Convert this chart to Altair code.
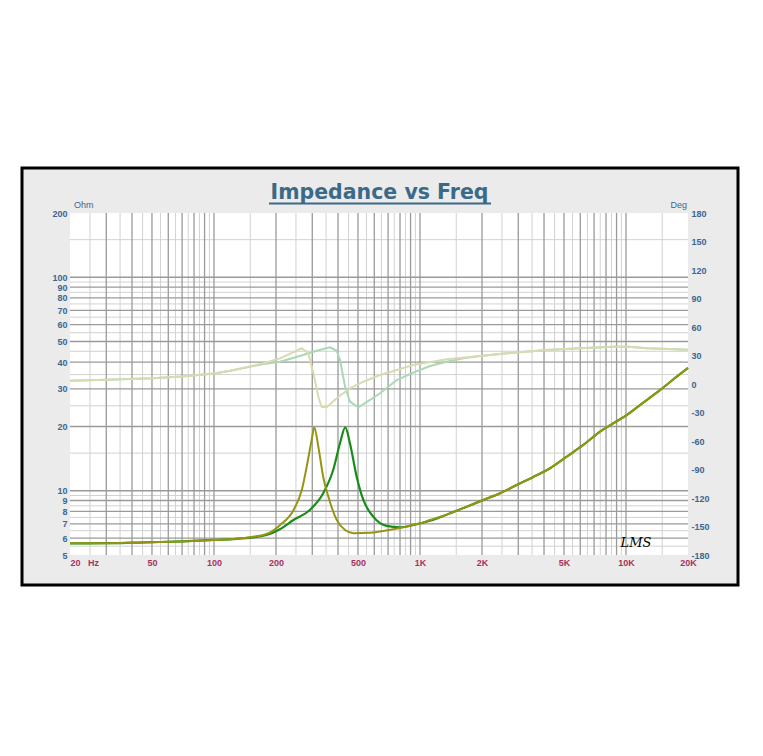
import altair as alt
import pandas as pd

# ---------------- data ----------------
title_text = "Impedance vs Freq"

# impedance curve 1 (olive, resonance ~305 Hz)
imp1_freq = [20, 30, 40, 50, 70, 100, 123, 155, 180, 209, 243, 267, 282, 298, 307, 321, 339, 359, 394, 433, 475,
             572, 742, 862, 1000, 1118, 1298, 1686, 2029, 2447, 2948, 3550, 4276, 5155, 6205, 7478, 8678,
             10080, 11695, 14620, 17630, 20000]
imp1_ohm = [5.67, 5.68, 5.71, 5.74, 5.79, 5.88, 5.94, 6.09, 6.27, 6.9, 8.1, 10.1, 13.0, 17.3, 19.8, 16.1, 11.6, 9.4,
            7.3, 6.55, 6.33, 6.36, 6.6, 6.79, 7.04, 7.29, 7.62, 8.42, 9.05, 9.73, 10.64, 11.6, 12.74, 14.44,
            16.38, 18.9, 20.7, 22.6, 25.2, 29.6, 34.2, 37.6]

# impedance curve 2 (green, resonance ~430 Hz)
imp2_freq = [20, 30, 40, 50, 70, 100, 123, 155, 180, 209, 243, 292, 339, 379, 409, 434, 457, 493, 531, 593, 689,
             800, 928, 1118, 1298, 1686, 2029, 2447, 2948, 3550, 4276, 5155, 6205, 7478, 8678, 10080, 11695,
             14620, 17630, 20000]
imp2_ohm = [5.67, 5.68, 5.71, 5.74, 5.79, 5.88, 5.94, 6.05, 6.2, 6.6, 7.29, 8.13, 9.73, 12.5, 16.7, 19.8, 16.7,
            11.6, 9.05, 7.56, 6.84, 6.74, 6.91, 7.23, 7.62, 8.42, 9.05, 9.73, 10.64, 11.6, 12.74, 14.44, 16.38,
            18.9, 20.7, 22.6, 25.2, 29.6, 34.2, 37.6]

# phase curve 1 (pale tan)
ph1_freq = [20, 30, 50, 70, 100, 120, 174, 209, 252, 267, 287, 304, 321, 333, 352, 394, 457, 531, 640, 928, 1348,
            1956, 2838, 4122, 5981, 8678, 10264, 12606, 20000]
ph1_deg = [3.5, 4.5, 6, 8, 11, 14, 21.8, 27, 35, 37.6, 32.3, 11.3, -13.4, -23.9, -24.5, -15, -4.5, 2.4, 9.5, 20,
           26, 29.5, 33, 35.8, 37.6, 39.3, 39.3, 37.6, 36.0]

# phase curve 2 (pale green)
ph2_freq = [20, 30, 50, 70, 100, 120, 174, 209, 271, 315, 366, 394, 409, 433, 457, 502, 572, 640, 771, 928, 1118,
            1348, 1623, 1956, 2838, 4122, 5981, 8678, 10264, 12606, 20000]
ph2_deg = [3.5, 4.5, 6, 8, 11, 14, 21, 23.5, 30.5, 35, 38.6, 35, 25.3, -2.8, -18.6, -24.5, -16.8, -9.8, 4.2, 11.9,
           18.9, 23.5, 27, 29.5, 33, 35.8, 37.6, 39.3, 39.3, 37.6, 36.0]

# axes
x_ticks = [20, 50, 100, 200, 500, 1000, 2000, 5000, 10000, 20000]
x_tick_labels = ["20\u00a0\u00a0\u00a0Hz", "50", "100", "200", "500", "1K", "2K", "5K", "10K", "20K"]
y_ticks = [5, 6, 7, 8, 9, 10, 20, 30, 40, 50, 60, 70, 80, 90, 100, 200]
phase_ticks = [-180, -150, -120, -90, -60, -30, 0, 30, 60, 90, 120, 150, 180]

x_major_grid = [30, 40, 50, 60, 70, 80, 90, 100, 200, 300, 400, 500, 600, 700, 800, 900, 1000,
                2000, 3000, 4000, 5000, 6000, 7000, 8000, 9000, 10000]
x_minor_grid = [25, 35, 45, 55, 65, 75, 85, 95, 150, 250, 350, 450, 550, 650, 750, 850, 950,
                1500, 2500, 3500, 4500, 5500, 6500, 7500, 8500, 9500, 15000]
y_major_grid = [6, 7, 8, 9, 10, 20, 30, 40, 50, 60, 70, 80, 90, 100]
y_minor_grid = [5.5, 6.5, 7.5, 8.5, 9.5, 15, 25, 35, 45, 55, 65, 75, 85, 95, 150]

# ---------------- styling ----------------
W, H = 618, 342
BLUE = "#3d6690"
RED = "#a8325e"
FONT = "Liberation Sans"

x_label_expr = " : ".join(
    f"datum.value == {v} ? '{l}'" for v, l in zip(x_ticks, x_tick_labels)
) + " : ''"

xscale = alt.Scale(type="log", domain=[20, 20000], nice=False)
yscale = alt.Scale(type="log", domain=[5, 200], nice=False)
pscale = alt.Scale(domain=[-180, 180], nice=False, zero=False)

x_axis = alt.Axis(values=x_ticks, labelExpr=x_label_expr, title=None, grid=False, ticks=False, domain=False,
                  labelColor=RED, labelFont=FONT, labelFontSize=9, labelFontWeight="bold", labelPadding=3,
                  labelAlign={"condition": {"test": "datum.value == 20", "value": "left"}, "value": "center"},
                  labelOverlap=False, labelBound=False, zindex=2)


def X(field="f"):
    return alt.X(f"{field}:Q", scale=xscale, axis=x_axis)


# background panel with frame
panel = alt.Chart(pd.DataFrame({"a": [0]})).mark_rect(
    fill="#ebebeb", stroke="black", strokeWidth=3
).encode(x=alt.value(-48), x2=alt.value(668), y=alt.value(-45), y2=alt.value(372))

plot_bg = alt.Chart(pd.DataFrame({"a": [0]})).mark_rect(fill="white").encode(
    x=alt.value(0), x2=alt.value(W), y=alt.value(0), y2=alt.value(H))

vminor = alt.Chart(pd.DataFrame({"f": x_minor_grid})).mark_rule(color="#d2d2d2", strokeWidth=1).encode(
    x=X(), y=alt.value(0), y2=alt.value(H))
vmajor = alt.Chart(pd.DataFrame({"f": x_major_grid})).mark_rule(color="#9a9a9a", strokeWidth=1.3).encode(
    x=X(), y=alt.value(0), y2=alt.value(H))
hminor = alt.Chart(pd.DataFrame({"z": y_minor_grid})).mark_rule(color="#d2d2d2", strokeWidth=1).encode(
    y=alt.Y("z:Q", scale=yscale, axis=None), x=alt.value(0), x2=alt.value(W))
hmajor = alt.Chart(pd.DataFrame({"z": y_major_grid})).mark_rule(color="#9a9a9a", strokeWidth=1.3).encode(
    y=alt.Y("z:Q", scale=yscale, axis=None), x=alt.value(0), x2=alt.value(W))

phase_axis = alt.Axis(values=phase_ticks, orient="right", title=None, grid=False, ticks=False, domain=False,
                      labelColor=BLUE, labelFont=FONT, labelFontSize=9, labelFontWeight="bold", labelPadding=3,
                      labelExpr="'' + datum.value", labelOverlap=False, labelBound=False, zindex=2)
phase2_line = alt.Chart(pd.DataFrame({"f": ph2_freq, "deg": ph2_deg})).mark_line(
    color="#a9d8b4", strokeWidth=2).encode(
    x=X(), y=alt.Y("deg:Q", scale=pscale, axis=phase_axis), order="f:Q")
phase1_line = alt.Chart(pd.DataFrame({"f": ph1_freq, "deg": ph1_deg})).mark_line(
    color="#dadab2", strokeWidth=2).encode(
    x=X(), y=alt.Y("deg:Q", scale=pscale, axis=None), order="f:Q")

y_axis = alt.Axis(values=y_ticks, title=None, grid=False, ticks=False, domain=False, format="d",
                  labelColor=BLUE, labelFont=FONT, labelFontSize=9, labelFontWeight="bold", labelPadding=3,
                  labelOverlap=False, labelBound=False, zindex=2)
imp2_line = alt.Chart(pd.DataFrame({"f": imp2_freq, "z": imp2_ohm})).mark_line(
    color="#1a8c1a", strokeWidth=2.2, interpolate="monotone").encode(
    x=X(), y=alt.Y("z:Q", scale=yscale, axis=y_axis), order="f:Q")
imp1_line = alt.Chart(pd.DataFrame({"f": imp1_freq, "z": imp1_ohm})).mark_line(
    color="#959512", strokeWidth=2, interpolate="monotone").encode(
    x=X(), y=alt.Y("z:Q", scale=yscale, axis=None), order="f:Q")

title = alt.Chart(pd.DataFrame({"t": [title_text]})).mark_text(
    font="DejaVu Sans", fontWeight="bold", fontSize=20.5, color="#3b6a88", align="center", baseline="alphabetic"
).encode(text="t:N", x=alt.value(309.5), y=alt.value(-14))
underline = alt.Chart(pd.DataFrame({"a": [0]})).mark_rule(color="#3b6a88", strokeWidth=2).encode(
    x=alt.value(199), x2=alt.value(421), y=alt.value(-9.5))

ohm = alt.Chart(pd.DataFrame({"t": ["Ohm"]})).mark_text(
    font=FONT, fontSize=9, color=BLUE, align="left", baseline="bottom").encode(
    text="t:N", x=alt.value(4), y=alt.value(-3))
deg = alt.Chart(pd.DataFrame({"t": ["Deg"]})).mark_text(
    font=FONT, fontSize=9, color=BLUE, align="right", baseline="bottom").encode(
    text="t:N", x=alt.value(617), y=alt.value(-3))
logo = alt.Chart(pd.DataFrame({"t": ["LMS"]})).mark_text(
    font="DejaVu Serif", fontStyle="italic", fontSize=13, color="black", align="center", baseline="middle").encode(
    text="t:N", x=alt.value(566), y=alt.value(330))

chart = alt.layer(
    panel, plot_bg, vminor, hminor, vmajor, hmajor, phase2_line, phase1_line, imp2_line, imp1_line,
    title, underline, ohm, deg, logo
).resolve_scale(y="independent").properties(
    width=W, height=H,
    autosize=alt.AutoSizeParams(type="none"),
    padding={"left": 62, "top": 205, "right": 67, "bottom": 150},
    background="white",
).configure_view(stroke="black", strokeWidth=2)

chart.save("out.html", embed_options={"renderer": "svg", "actions": False})
